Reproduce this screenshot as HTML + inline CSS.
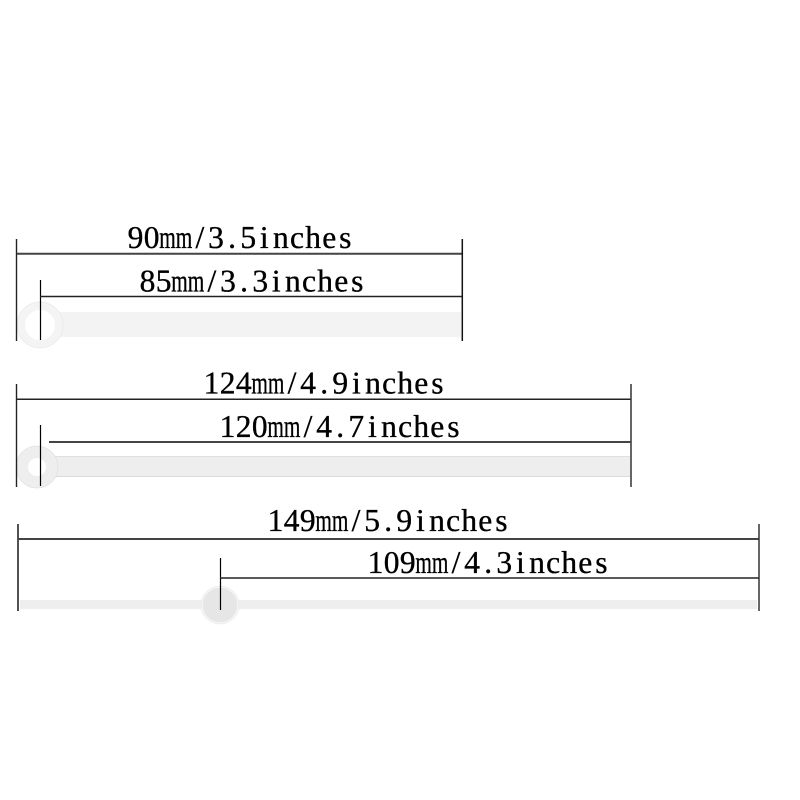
<!DOCTYPE html>
<html>
<head>
<meta charset="utf-8">
<style>
html,body{margin:0;padding:0;background:#fff;}
svg{display:block;}
text{font-family:"Liberation Serif",serif;font-size:31.5px;fill:#000;stroke:#000;stroke-width:0.35px;text-anchor:middle;}
tspan.m{text-anchor:start;}
</style>
</head>
<body>
<svg width="800" height="800" viewBox="0 0 800 800" xmlns="http://www.w3.org/2000/svg">
<rect width="800" height="800" fill="#fff"/>

<!-- Hand 1 -->
<rect x="58" y="312" width="403" height="25" fill="#f3f3f3"/>
<circle cx="40" cy="325" r="19" fill="none" stroke="#f4f4f4" stroke-width="8"/>
<circle cx="40" cy="325" r="23" fill="none" stroke="#e8e8e8" stroke-width="0.7"/>
<g fill="none">
<path d="M16.5 239V341" stroke="#222" stroke-width="1.4"/>
<path d="M17 253.7H462" stroke="#444" stroke-width="2"/>
<path d="M462.3 239V341" stroke="#111" stroke-width="1.5"/>
<path d="M40.5 280V340" stroke="#000" stroke-width="1.2"/>
<path d="M40 296.5H462" stroke="#222" stroke-width="1.5"/>
</g>

<!-- Hand 2 -->
<rect x="52" y="456" width="578" height="21" fill="#eeeeee"/>
<rect x="52" y="456" width="578" height="1" fill="#e0e0e0"/>
<rect x="52" y="476" width="578" height="1" fill="#dadada"/>
<circle cx="37" cy="467" r="15" fill="none" stroke="#eeeeee" stroke-width="12"/>
<circle cx="37" cy="467" r="21" fill="none" stroke="#e0e0e0" stroke-width="0.7"/>
<g fill="none">
<path d="M16.5 384V487" stroke="#222" stroke-width="1.4"/>
<path d="M17 399.2H631" stroke="#222" stroke-width="1.5"/>
<path d="M631 384V487" stroke="#333" stroke-width="1.5"/>
<path d="M40.5 425V486" stroke="#000" stroke-width="1.2"/>
<path d="M49 442H631" stroke="#444" stroke-width="2"/>
</g>

<!-- Hand 3 -->
<rect x="20" y="600" width="737" height="9" fill="#eeeeee"/>
<circle cx="220" cy="605" r="18" fill="#e6e6e6" stroke="#f6f6f6" stroke-width="1.5"/>
<circle cx="220" cy="605" r="19" fill="none" stroke="#e6e6e6" stroke-width="0.6"/>
<g fill="none">
<path d="M18 524V611" stroke="#333" stroke-width="1.7"/>
<path d="M18 539H759" stroke="#444" stroke-width="2"/>
<path d="M759 524V611" stroke="#333" stroke-width="1.5"/>
<path d="M220.5 558V610" stroke="#000" stroke-width="1.2"/>
<path d="M220 578H759" stroke="#222" stroke-width="1.5"/>
</g>

<!-- Labels -->
<g transform="translate(127.5,248)"><text><tspan x="8 24.1">90</tspan><tspan class="m" x="31.8" textLength="33" lengthAdjust="spacingAndGlyphs">mm</tspan><tspan x="72.4 88.5 104.6 120.7 136.8 153.4 169.5 185.6 201.7 217.8">/3.5inches</tspan></text></g>
<g transform="translate(139.5,291.5)"><text><tspan x="8 24.1">85</tspan><tspan class="m" x="31.8" textLength="33" lengthAdjust="spacingAndGlyphs">mm</tspan><tspan x="72.4 88.5 104.6 120.7 136.8 153.4 169.5 185.6 201.7 217.8">/3.3inches</tspan></text></g>
<g transform="translate(203.5,393.5)"><text><tspan x="8 24.1 40.2">124</tspan><tspan class="m" x="47.9" textLength="33" lengthAdjust="spacingAndGlyphs">mm</tspan><tspan x="88.5 104.6 120.7 136.8 152.9 169.5 185.6 201.7 217.8 233.9">/4.9inches</tspan></text></g>
<g transform="translate(219.5,437)"><text><tspan x="8 24.1 40.2">120</tspan><tspan class="m" x="47.9" textLength="33" lengthAdjust="spacingAndGlyphs">mm</tspan><tspan x="88.5 104.6 120.7 136.8 152.9 169.5 185.6 201.7 217.8 233.9">/4.7inches</tspan></text></g>
<g transform="translate(267.5,531)"><text><tspan x="8 24.1 40.2">149</tspan><tspan class="m" x="47.9" textLength="33" lengthAdjust="spacingAndGlyphs">mm</tspan><tspan x="88.5 104.6 120.7 136.8 152.9 169.5 185.6 201.7 217.8 233.9">/5.9inches</tspan></text></g>
<g transform="translate(367.5,573)"><text><tspan x="8 24.1 40.2">109</tspan><tspan class="m" x="47.9" textLength="33" lengthAdjust="spacingAndGlyphs">mm</tspan><tspan x="88.5 104.6 120.7 136.8 152.9 169.5 185.6 201.7 217.8 233.9">/4.3inches</tspan></text></g>
</svg>
</body>
</html>
